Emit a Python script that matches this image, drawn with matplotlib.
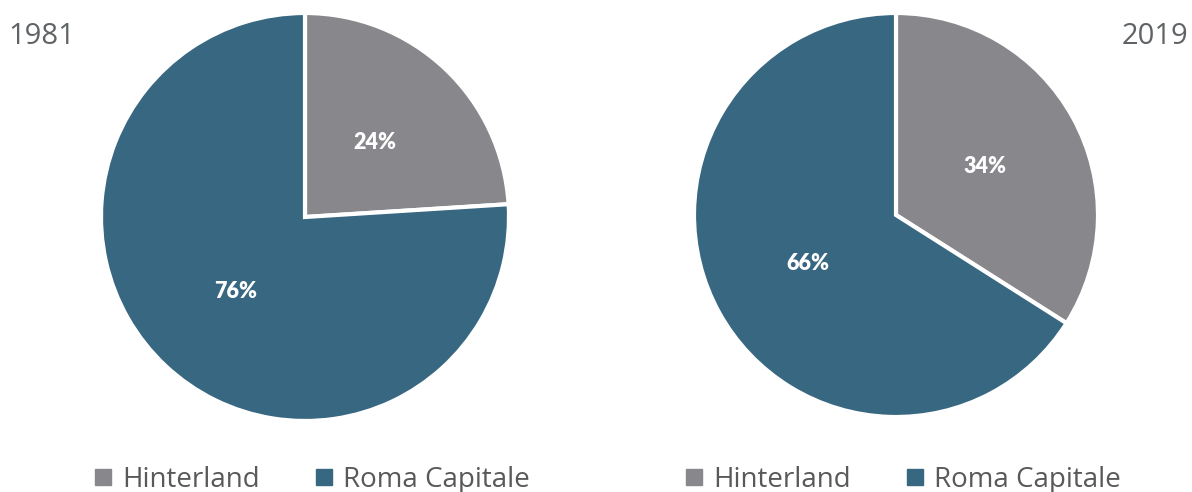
import matplotlib
matplotlib.use("Agg")
import matplotlib.pyplot as plt
from matplotlib.lines import Line2D

categories = ["Hinterland", "Roma Capitale"]
values_1981 = [24, 76]
values_2019 = [34, 66]
years = ["1981", "2019"]
colors = ["#88878c", "#386782"]

W, H = 1192, 492
fig = plt.figure(figsize=(W / 100, H / 100), dpi=100)

def add_pie(cx, cy, r, vals):
    ax = fig.add_axes([(cx - r) / W, (H - cy - r) / H, 2 * r / W, 2 * r / H])
    ax.pie(vals, colors=colors, startangle=90, counterclock=False,
           autopct=lambda p: f"{p:.0f}%", pctdistance=0.5,
           wedgeprops=dict(edgecolor="white", linewidth=3),
           textprops=dict(color="white", fontsize=15.5, fontweight="heavy", family="Lato"))
    ax.set_xlim(-1.0, 1.0)
    ax.set_ylim(-1.0, 1.0)
    ax.set_aspect("equal")
    ax.axis("off")
    return ax

add_pie(305, 217, 204, values_1981)
add_pie(896, 215, 202, values_2019)

fig.text(8 / W, 1 - 37 / H, years[0], fontsize=21, color="#606366", family="Open Sans",
         ha="left", va="center")
fig.text(1188 / W, 1 - 37 / H, years[1], fontsize=21, color="#606366", family="Open Sans",
         ha="right", va="center")

handles = [Line2D([], [], marker="s", linestyle="none", markersize=11, color=c) for c in colors]
for xc in (312, 903):
    leg = fig.legend(handles, categories, loc="center", bbox_to_anchor=(xc / W, 1 - 480 / H),
                     ncol=2, frameon=False, handlelength=0.6, handletextpad=0.4,
                     columnspacing=2.0, prop=dict(family="Open Sans", size=20))
    for t in leg.get_texts():
        t.set_color("#595959")

fig.savefig("out.png", dpi=100)
